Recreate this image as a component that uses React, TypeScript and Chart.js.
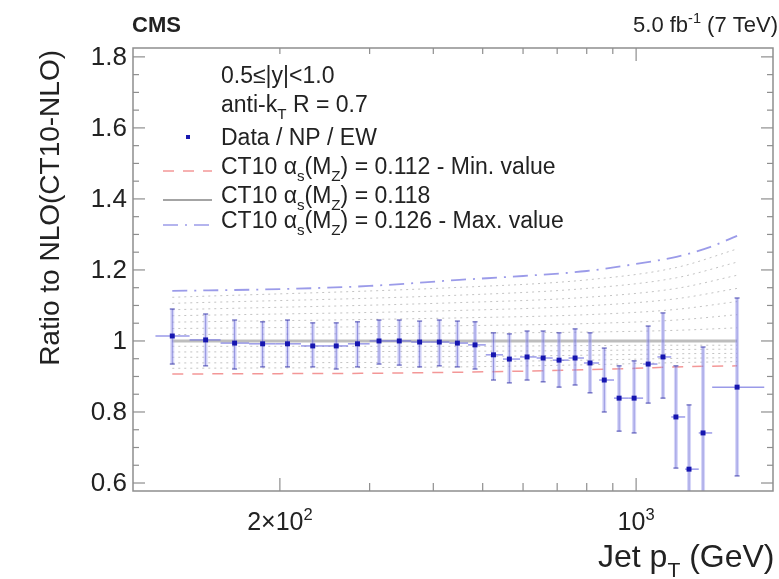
import React, { useEffect, useRef } from "react";
import { Chart, registerables } from "chart.js";

Chart.register(...registerables);

// ---------------- data ----------------
const binLow = [114, 133, 153, 174, 196, 220, 245, 272, 300, 330, 362, 395, 430, 468, 507, 548, 592, 638, 686, 737, 790, 846, 905, 967, 1032, 1101, 1172, 1248, 1327, 1410];
const binHigh = [133, 153, 174, 196, 220, 245, 272, 300, 330, 362, 395, 430, 468, 507, 548, 592, 638, 686, 737, 790, 846, 905, 967, 1032, 1101, 1172, 1248, 1327, 1410, 1784];
const ptCenter = [123, 143, 163, 185, 207, 232, 258, 284, 313, 343, 376, 411, 446, 483, 525, 564, 611, 657, 706, 759, 812, 866, 926, 991, 1056, 1129, 1197, 1270, 1353, 1578];
const ratio = [1.014, 1.003, 0.994, 0.992, 0.992, 0.986, 0.986, 0.992, 1.0, 1.0, 0.997, 0.997, 0.994, 0.989, 0.961, 0.949, 0.955, 0.952, 0.946, 0.952, 0.938, 0.89, 0.839, 0.839, 0.935, 0.955, 0.786, 0.639, 0.741, 0.87];
const errHigh = [1.09, 1.076, 1.059, 1.054, 1.059, 1.051, 1.051, 1.054, 1.059, 1.059, 1.056, 1.059, 1.056, 1.054, 1.023, 1.02, 1.028, 1.028, 1.023, 1.034, 1.023, 0.98, 0.93, 0.944, 1.042, 1.079, 0.93, 0.82, 0.983, 1.121];
const errLow = [0.935, 0.93, 0.921, 0.927, 0.927, 0.927, 0.921, 0.927, 0.935, 0.932, 0.927, 0.93, 0.927, 0.921, 0.89, 0.882, 0.89, 0.885, 0.87, 0.876, 0.854, 0.8, 0.746, 0.741, 0.825, 0.839, 0.642, 0.45, 0.45, 0.62];

const ptTheory = [123, 200, 300, 450, 600, 800, 1000, 1200, 1400, 1578];
const ratioMin = [0.907, 0.908, 0.909, 0.912, 0.915, 0.919, 0.923, 0.927, 0.929, 0.93];
const ratioCentral = [1, 1, 1, 1, 1, 1, 1, 1, 1, 1];
const ratioMax = [1.141, 1.146, 1.155, 1.172, 1.183, 1.197, 1.217, 1.237, 1.265, 1.296];

const ptScan = [123, 450, 800, 1200, 1578];
const scan0113 = [0.923, 0.927, 0.933, 0.939, 0.942];
const scan0114 = [0.938, 0.941, 0.946, 0.951, 0.953];
const scan0115 = [0.954, 0.956, 0.96, 0.964, 0.965];
const scan0116 = [0.969, 0.971, 0.973, 0.976, 0.977];
const scan0117 = [0.985, 0.985, 0.987, 0.988, 0.988];
const scan0119 = [1.018, 1.022, 1.025, 1.03, 1.037];
const scan0120 = [1.035, 1.043, 1.049, 1.059, 1.074];
const scan0121 = [1.053, 1.065, 1.074, 1.089, 1.111];
const scan0122 = [1.071, 1.086, 1.099, 1.119, 1.148];
const scan0123 = [1.088, 1.108, 1.123, 1.148, 1.185];
const scan0124 = [1.106, 1.129, 1.148, 1.178, 1.222];
const scan0125 = [1.123, 1.151, 1.172, 1.207, 1.259];
const scanCurves = [scan0113, scan0114, scan0115, scan0116, scan0117, scan0119, scan0120, scan0121, scan0122, scan0123, scan0124, scan0125];

const xTickValues = [200, 300, 400, 500, 600, 700, 800, 900, 1000];
const xLabelled = [
  { value: 200, base: "2×10", exp: "2" },
  { value: 1000, base: "10", exp: "3" },
];
const yTickValues = [0.6, 0.8, 1, 1.2, 1.4, 1.6, 1.8];
const yTickLabels = ["0.6", "0.8", "1", "1.2", "1.4", "1.6", "1.8"];

const yTitle = "Ratio to NLO(CT10-NLO)";
const xTitle = [{ t: "Jet p" }, { t: "T", sub: true }, { t: " (GeV)" }];
const cmsLabel = "CMS";
const lumiLabel = [{ t: "5.0 fb" }, { t: "-1", sup: true }, { t: " (7 TeV)" }];

const legendRows: any[] = [
  { segs: [{ t: "0.5≤|y|<1.0" }], kind: "none" },
  { segs: [{ t: "anti-k" }, { t: "T", sub: true }, { t: " R = 0.7" }], kind: "none" },
  { segs: [{ t: "Data / NP / EW" }], kind: "marker" },
  { segs: [{ t: "CT10 α" }, { t: "s", sub: true }, { t: "(M" }, { t: "Z", sub: true }, { t: ") = 0.112 - Min. value" }], kind: "min" },
  { segs: [{ t: "CT10 α" }, { t: "s", sub: true }, { t: "(M" }, { t: "Z", sub: true }, { t: ") = 0.118" }], kind: "central" },
  { segs: [{ t: "CT10 α" }, { t: "s", sub: true }, { t: "(M" }, { t: "Z", sub: true }, { t: ") = 0.126 - Max. value" }], kind: "max" },
];

// ---------------- styles ----------------
const FONT = '"Liberation Sans", Arial, Helvetica, sans-serif';
const TEXT = "#222222";
const FRAME = "#8e8e8e";
const RED = "rgba(240,125,125,0.8)";
const BLUE = "rgba(150,150,232,0.95)";
const GRAY = "#bdbdbd";
const DOT = "rgba(170,170,170,0.7)";
const RED_DASH = [11, 9];
const BLUE_DASH = [15, 7, 2, 7];

function drawRich(ctx: any, segs: any[], x: number, y: number, size: number, align: string, bold = false) {
  const parts = segs.map((s) => {
    const fs = s.sub || s.sup ? size * 0.66 : size;
    ctx.font = `${bold ? "bold " : ""}${fs}px ${FONT}`;
    return { s, fs, w: ctx.measureText(s.t).width };
  });
  const total = parts.reduce((a, p) => a + p.w, 0);
  let cx = align === "center" ? x - total / 2 : align === "right" ? x - total : x;
  ctx.textAlign = "left";
  ctx.textBaseline = "alphabetic";
  for (const p of parts) {
    ctx.font = `${bold ? "bold " : ""}${p.fs}px ${FONT}`;
    const dy = p.s.sub ? size * 0.3 : p.s.sup ? -size * 0.42 : 0;
    ctx.fillText(p.s.t, cx, y + dy);
    cx += p.w;
  }
}

function line(ctx: any, x1: number, y1: number, x2: number, y2: number) {
  ctx.beginPath();
  ctx.moveTo(x1, y1);
  ctx.lineTo(x2, y2);
  ctx.stroke();
}

const decorPlugin = {
  id: "cmsDecor",
  beforeDatasetDraw(chart: any, args: any) {
    if (args.index !== 0) return;
    const ctx = chart.ctx;
    const xs = chart.scales.x;
    const ys = chart.scales.y;
    const a = chart.chartArea;
    ctx.save();
    ctx.beginPath();
    ctx.rect(a.left, a.top, a.right - a.left, a.bottom - a.top);
    ctx.clip();
    for (let i = 0; i < ptCenter.length; i++) {
      const px = xs.getPixelForValue(ptCenter[i]);
      const py = ys.getPixelForValue(ratio[i]);
      const yHi = ys.getPixelForValue(errHigh[i]);
      const yLo = ys.getPixelForValue(errLow[i]);
      const xL = xs.getPixelForValue(binLow[i]);
      const xR = xs.getPixelForValue(binHigh[i]);
      ctx.setLineDash([]);
      ctx.strokeStyle = "rgba(165,165,240,0.45)";
      ctx.lineWidth = 4;
      line(ctx, px, yHi, px, yLo);
      ctx.strokeStyle = "rgba(80,80,200,0.5)";
      ctx.lineWidth = 1;
      line(ctx, px, yHi, px, yLo);
      ctx.lineWidth = 1.5;
      ctx.strokeStyle = "rgba(60,60,170,0.65)";
      line(ctx, px - 2.5, yHi, px + 2.5, yHi);
      line(ctx, px - 2.5, yLo, px + 2.5, yLo);
      ctx.strokeStyle = "rgba(100,100,220,0.65)";
      ctx.lineWidth = 1.5;
      line(ctx, xL, py, xR, py);
    }
    ctx.restore();
  },
  afterDraw(chart: any) {
    const ctx = chart.ctx;
    const xs = chart.scales.x;
    const ys = chart.scales.y;
    const a = chart.chartArea;
    ctx.save();
    // frame
    ctx.setLineDash([]);
    ctx.strokeStyle = FRAME;
    ctx.lineWidth = 1.5;
    ctx.strokeRect(a.left, a.top, a.right - a.left, a.bottom - a.top);
    // y ticks
    ctx.lineWidth = 1.2;
    for (let k = 0; k <= 24; k++) {
      const v = 0.6 + k * 0.05;
      const py = ys.getPixelForValue(v);
      const len = k % 4 === 0 ? 12 : 6;
      line(ctx, a.left, py, a.left + len, py);
      line(ctx, a.right, py, a.right - len, py);
    }
    // x ticks
    for (const v of xTickValues) {
      const px = xs.getPixelForValue(v);
      const len = v === 1000 || v === 200 ? 13 : 8;
      line(ctx, px, a.bottom, px, a.bottom - len);
      line(ctx, px, a.top, px, a.top + (v === 1000 ? 13 : 6));
    }
    // y tick labels
    ctx.fillStyle = TEXT;
    ctx.font = `26px ${FONT}`;
    ctx.textAlign = "right";
    ctx.textBaseline = "middle";
    yTickValues.forEach((v, i) => {
      ctx.fillText(yTickLabels[i], a.left - 6, ys.getPixelForValue(v) + 1);
    });
    // x tick labels
    for (const t of xLabelled) {
      drawRich(ctx, [{ t: t.base }, { t: t.exp, sup: true }], xs.getPixelForValue(t.value), a.bottom + 39, 25, "center");
    }
    // titles
    drawRich(ctx, xTitle, 598, 567, 32, "left");
    ctx.save();
    ctx.translate(51, 50);
    ctx.rotate(-Math.PI / 2);
    ctx.font = `28px ${FONT}`;
    ctx.textAlign = "right";
    ctx.textBaseline = "middle";
    ctx.fillText(yTitle, 0, 0);
    ctx.restore();
    drawRich(ctx, [{ t: cmsLabel }], 132, 32, 22, "left", true);
    drawRich(ctx, lumiLabel, 778, 32, 22, "right");
    // legend
    const rowY = [75, 104, 137, 166, 195, 220];
    legendRows.forEach((row, i) => {
      const cy = rowY[i];
      ctx.fillStyle = TEXT;
      drawRich(ctx, row.segs, 221, cy + 8, 23, "left");
      const ly = cy + 5;
      if (row.kind === "marker") {
        ctx.fillStyle = "#1818b0";
        ctx.fillRect(186, cy - 2, 4, 4);
      } else if (row.kind === "min") {
        ctx.strokeStyle = RED;
        ctx.lineWidth = 1.5;
        ctx.setLineDash(RED_DASH);
        line(ctx, 163, ly, 212, ly);
      } else if (row.kind === "central") {
        ctx.strokeStyle = "#a4a4a4";
        ctx.lineWidth = 2;
        ctx.setLineDash([]);
        line(ctx, 163, ly, 212, ly);
      } else if (row.kind === "max") {
        ctx.strokeStyle = BLUE;
        ctx.lineWidth = 1.5;
        ctx.setLineDash(BLUE_DASH);
        line(ctx, 163, ly, 212, ly);
      }
      ctx.setLineDash([]);
    });
    ctx.restore();
  },
};

export default function App() {
  const ref = useRef<HTMLCanvasElement | null>(null);
  useEffect(() => {
    if (!ref.current) return;
    const toXY = (xs: number[], ys: number[]) => xs.map((x, i) => ({ x, y: ys[i] }));
    const datasets: any[] = [
      {
        label: "Data / NP / EW",
        data: toXY(ptCenter, ratio),
        showLine: false,
        pointStyle: "rect",
        pointRadius: 3.5,
        pointBackgroundColor: "#1616b0",
        pointBorderWidth: 0,
        borderWidth: 0,
      },
      {
        label: "CT10 0.118",
        data: toXY(ptTheory, ratioCentral),
        borderColor: GRAY,
        borderWidth: 3,
        pointRadius: 0,
      },
      {
        label: "CT10 0.112",
        data: toXY(ptTheory, ratioMin),
        borderColor: RED,
        borderWidth: 1.5,
        borderDash: RED_DASH,
        pointRadius: 0,
        cubicInterpolationMode: "monotone",
      },
      {
        label: "CT10 0.126",
        data: toXY(ptTheory, ratioMax),
        borderColor: BLUE,
        borderWidth: 1.8,
        borderDash: BLUE_DASH,
        pointRadius: 0,
        cubicInterpolationMode: "monotone",
      },
      ...scanCurves.map((c, i) => ({
        label: "scan" + i,
        data: toXY(ptScan, c),
        borderColor: DOT,
        borderWidth: 1,
        borderDash: [2, 4],
        pointRadius: 0,
        cubicInterpolationMode: "monotone",
      })),
    ];
    const chart = new Chart(ref.current, {
      type: "line",
      data: { datasets },
      options: {
        animation: false,
        responsive: false,
        devicePixelRatio: 1,
        layout: { padding: { left: 133, top: 48, right: 6, bottom: 88 } },
        plugins: { legend: { display: false }, tooltip: { enabled: false } },
        scales: {
          x: { type: "logarithmic", min: 103, max: 1856, display: false },
          y: { type: "linear", min: 0.5775, max: 1.825, display: false },
        },
      },
      plugins: [decorPlugin],
    } as any);
    return () => chart.destroy();
  }, []);
  return (
    <div style={{ position: "fixed", left: 0, top: 0, width: 779, height: 579, background: "#fff" }}>
      <canvas ref={ref} width={779} height={579} style={{ display: "block" }} />
    </div>
  );
}
